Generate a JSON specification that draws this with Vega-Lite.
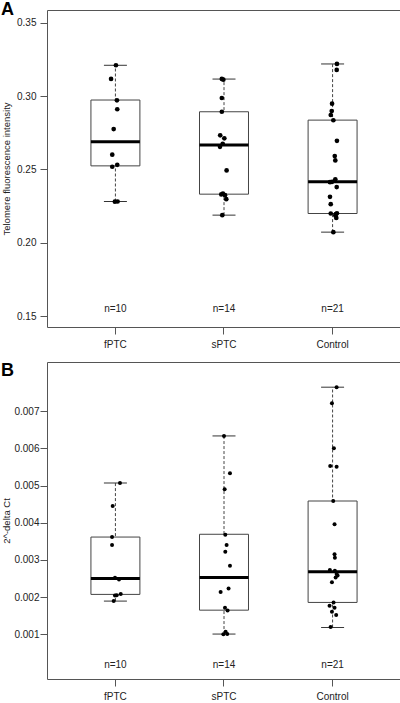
{
  "$schema": "https://vega.github.io/schema/vega-lite/v6.json",
  "padding": 0,
  "background": "white",
  "spacing": 11,
  "config": {
    "font": "Liberation Sans",
    "view": {"stroke": "#555", "strokeWidth": 1},
    "axis": {"domain": false, "grid": false, "tickColor": "#555", "tickSize": 7, "labelFont": "Liberation Sans", "labelFontSize": 10, "labelColor": "#222", "titleFont": "Liberation Sans", "titleFontWeight": "normal", "titleFontSize": 9.5, "titleColor": "#222"},
    "axisX": {"labelPadding": 5, "labelAngle": 0, "title": null},
    "title": {"anchor": "start", "frame": "bounds", "fontSize": 18, "font": "Liberation Sans", "fontWeight": "bold", "color": "#000"}
  },
  "datasets": {
    "telomere": [
      {"group": "fPTC", "value": 0.3210, "jitter": 0.005},
      {"group": "fPTC", "value": 0.3117, "jitter": -0.04},
      {"group": "fPTC", "value": 0.2971, "jitter": 0.014},
      {"group": "fPTC", "value": 0.2910, "jitter": 0.017},
      {"group": "fPTC", "value": 0.2775, "jitter": -0.016},
      {"group": "fPTC", "value": 0.2600, "jitter": -0.029},
      {"group": "fPTC", "value": 0.2518, "jitter": -0.029},
      {"group": "fPTC", "value": 0.2531, "jitter": 0.017},
      {"group": "fPTC", "value": 0.2281, "jitter": 0.02},
      {"group": "fPTC", "value": 0.2280, "jitter": -0.005},
      {"group": "sPTC", "value": 0.3117, "jitter": -0.02},
      {"group": "sPTC", "value": 0.3112, "jitter": -0.006},
      {"group": "sPTC", "value": 0.2987, "jitter": -0.02},
      {"group": "sPTC", "value": 0.2893, "jitter": -0.02},
      {"group": "sPTC", "value": 0.2732, "jitter": -0.035},
      {"group": "sPTC", "value": 0.2712, "jitter": 0.003},
      {"group": "sPTC", "value": 0.2675, "jitter": -0.012},
      {"group": "sPTC", "value": 0.2654, "jitter": -0.037},
      {"group": "sPTC", "value": 0.2493, "jitter": 0.024},
      {"group": "sPTC", "value": 0.2329, "jitter": -0.025},
      {"group": "sPTC", "value": 0.2324, "jitter": 0.009},
      {"group": "sPTC", "value": 0.2297, "jitter": 0.021},
      {"group": "sPTC", "value": 0.2335, "jitter": -0.01},
      {"group": "sPTC", "value": 0.2188, "jitter": -0.016},
      {"group": "Control", "value": 0.3219, "jitter": 0.04},
      {"group": "Control", "value": 0.3178, "jitter": 0.038},
      {"group": "Control", "value": 0.2948, "jitter": -0.005},
      {"group": "Control", "value": 0.2898, "jitter": -0.008},
      {"group": "Control", "value": 0.2871, "jitter": -0.017},
      {"group": "Control", "value": 0.2835, "jitter": 0.007},
      {"group": "Control", "value": 0.2695, "jitter": 0.04},
      {"group": "Control", "value": 0.2591, "jitter": 0.02},
      {"group": "Control", "value": 0.2561, "jitter": 0.025},
      {"group": "Control", "value": 0.2432, "jitter": 0.025},
      {"group": "Control", "value": 0.2413, "jitter": -0.024},
      {"group": "Control", "value": 0.2415, "jitter": -0.005},
      {"group": "Control", "value": 0.2379, "jitter": 0.038},
      {"group": "Control", "value": 0.2313, "jitter": -0.024},
      {"group": "Control", "value": 0.2263, "jitter": -0.017},
      {"group": "Control", "value": 0.2199, "jitter": -0.017},
      {"group": "Control", "value": 0.2195, "jitter": 0.03},
      {"group": "Control", "value": 0.2200, "jitter": 0.04},
      {"group": "Control", "value": 0.2186, "jitter": 0.025},
      {"group": "Control", "value": 0.2169, "jitter": 0.034},
      {"group": "Control", "value": 0.2072, "jitter": 0.007}
    ],
    "telomereBox": [
      {"group": "fPTC", "lower": 0.2281, "q1": 0.2524, "median": 0.2689, "q3": 0.2973, "upper": 0.3210, "n": "n=10"},
      {"group": "sPTC", "lower": 0.2188, "q1": 0.2331, "median": 0.2666, "q3": 0.2893, "upper": 0.3116, "n": "n=14"},
      {"group": "Control", "lower": 0.2072, "q1": 0.2199, "median": 0.2415, "q3": 0.2836, "upper": 0.3219, "n": "n=21"}
    ],
    "dct": [
      {"group": "fPTC", "value": 0.005068, "jitter": 0.042},
      {"group": "fPTC", "value": 0.00445, "jitter": -0.025},
      {"group": "fPTC", "value": 0.003615, "jitter": -0.031},
      {"group": "fPTC", "value": 0.0034, "jitter": -0.031},
      {"group": "fPTC", "value": 0.00252, "jitter": -0.004},
      {"group": "fPTC", "value": 0.002477, "jitter": 0.033},
      {"group": "fPTC", "value": 0.002082, "jitter": 0.049},
      {"group": "fPTC", "value": 0.002047, "jitter": -0.004},
      {"group": "fPTC", "value": 0.00205, "jitter": 0.012},
      {"group": "fPTC", "value": 0.001894, "jitter": -0.016},
      {"group": "sPTC", "value": 0.006333, "jitter": 0.0},
      {"group": "sPTC", "value": 0.005329, "jitter": 0.055},
      {"group": "sPTC", "value": 0.004899, "jitter": 0.006},
      {"group": "sPTC", "value": 0.003677, "jitter": 0.012},
      {"group": "sPTC", "value": 0.0034, "jitter": 0.024},
      {"group": "sPTC", "value": 0.00322, "jitter": 0.012},
      {"group": "sPTC", "value": 0.002843, "jitter": 0.055},
      {"group": "sPTC", "value": 0.002235, "jitter": 0.042},
      {"group": "sPTC", "value": 0.002136, "jitter": -0.031},
      {"group": "sPTC", "value": 0.001713, "jitter": 0.009},
      {"group": "sPTC", "value": 0.001641, "jitter": 0.033},
      {"group": "sPTC", "value": 0.00107, "jitter": 0.015},
      {"group": "sPTC", "value": 0.00101, "jitter": 0.03},
      {"group": "sPTC", "value": 0.00100, "jitter": -0.006},
      {"group": "Control", "value": 0.007643, "jitter": 0.037},
      {"group": "Control", "value": 0.007212, "jitter": -0.006},
      {"group": "Control", "value": 0.006001, "jitter": 0.012},
      {"group": "Control", "value": 0.005525, "jitter": -0.022},
      {"group": "Control", "value": 0.005507, "jitter": 0.037},
      {"group": "Control", "value": 0.004584, "jitter": 0.006},
      {"group": "Control", "value": 0.003956, "jitter": 0.018},
      {"group": "Control", "value": 0.00315, "jitter": 0.018},
      {"group": "Control", "value": 0.003058, "jitter": 0.021},
      {"group": "Control", "value": 0.002727, "jitter": -0.025},
      {"group": "Control", "value": 0.002709, "jitter": 0.021},
      {"group": "Control", "value": 0.00262, "jitter": 0.037},
      {"group": "Control", "value": 0.00258, "jitter": 0.046},
      {"group": "Control", "value": 0.002531, "jitter": 0.028},
      {"group": "Control", "value": 0.002397, "jitter": -0.006},
      {"group": "Control", "value": 0.001858, "jitter": 0.009},
      {"group": "Control", "value": 0.001767, "jitter": -0.028},
      {"group": "Control", "value": 0.001713, "jitter": 0.018},
      {"group": "Control", "value": 0.001606, "jitter": -0.006},
      {"group": "Control", "value": 0.001517, "jitter": 0.033},
      {"group": "Control", "value": 0.0012, "jitter": -0.018}
    ],
    "dctBox": [
      {"group": "fPTC", "lower": 0.001894, "q1": 0.002074, "median": 0.002504, "q3": 0.003615, "upper": 0.005068, "n": "n=10"},
      {"group": "sPTC", "lower": 0.001008, "q1": 0.00165, "median": 0.00253, "q3": 0.00369, "upper": 0.006333, "n": "n=14"},
      {"group": "Control", "lower": 0.001185, "q1": 0.001858, "median": 0.00268, "q3": 0.004584, "upper": 0.007643, "n": "n=21"}
    ]
  },
  "vconcat": [
    {
      "width": 354,
      "height": 317,
      "title": {"text": "A", "offset": -9},
      "resolve": {"scale": {"xOffset": "independent"}},
      "layer": [
        {
          "data": {"name": "telomereBox"},
          "mark": {"type": "rule", "color": "#444", "strokeDash": [3, 2], "strokeWidth": 1},
          "encoding": {
            "x": {"field": "group", "type": "nominal", "scale": {"domain": ["fPTC", "sPTC", "Control"], "paddingInner": 0.549, "paddingOuter": 0.4045}, "axis": {"title": null}},
            "y": {"field": "lower", "type": "quantitative", "scale": {"domain": [0.1425, 0.3587], "nice": false, "zero": false},
                  "axis": {"title": "Telomere fluorescence intensity", "values": [0.15, 0.2, 0.25, 0.3, 0.35], "format": ".2f", "labelPadding": 4, "minExtent": 30, "maxExtent": 30, "titlePadding": 6}},
            "y2": {"field": "upper"}
          }
        },
        {
          "data": {"name": "telomereBox"},
          "mark": {"type": "bar", "fill": "white", "stroke": "#444", "strokeWidth": 1},
          "encoding": {
            "x": {"field": "group", "type": "nominal"},
            "y": {"field": "q1", "type": "quantitative",
                  "axis": {"title": "Telomere fluorescence intensity", "values": [0.15, 0.2, 0.25, 0.3, 0.35], "format": ".2f", "labelPadding": 4, "minExtent": 30, "maxExtent": 30, "titlePadding": 6}},
            "y2": {"field": "q3"}
          }
        },
        {
          "data": {"name": "telomereBox"},
          "mark": {"type": "tick", "size": 49, "thickness": 3, "color": "#000", "opacity": 1},
          "encoding": {
            "x": {"field": "group", "type": "nominal"},
            "y": {"field": "median", "type": "quantitative",
                  "axis": {"title": "Telomere fluorescence intensity", "values": [0.15, 0.2, 0.25, 0.3, 0.35], "format": ".2f", "labelPadding": 4, "minExtent": 30, "maxExtent": 30, "titlePadding": 6}}
          }
        },
        {
          "data": {"name": "telomereBox"},
          "mark": {"type": "tick", "size": 23, "thickness": 1, "color": "#333", "opacity": 1},
          "encoding": {
            "x": {"field": "group", "type": "nominal"},
            "y": {"field": "lower", "type": "quantitative",
                  "axis": {"title": "Telomere fluorescence intensity", "values": [0.15, 0.2, 0.25, 0.3, 0.35], "format": ".2f", "labelPadding": 4, "minExtent": 30, "maxExtent": 30, "titlePadding": 6}}
          }
        },
        {
          "data": {"name": "telomereBox"},
          "mark": {"type": "tick", "size": 23, "thickness": 1, "color": "#333", "opacity": 1},
          "encoding": {
            "x": {"field": "group", "type": "nominal"},
            "y": {"field": "upper", "type": "quantitative",
                  "axis": {"title": "Telomere fluorescence intensity", "values": [0.15, 0.2, 0.25, 0.3, 0.35], "format": ".2f", "labelPadding": 4, "minExtent": 30, "maxExtent": 30, "titlePadding": 6}}
          }
        },
        {
          "data": {"name": "telomere"},
          "mark": {"type": "circle", "size": 22, "color": "#000", "opacity": 1},
          "encoding": {
            "x": {"field": "group", "type": "nominal"},
            "xOffset": {"field": "jitter", "type": "quantitative", "scale": {"domain": [-0.2256, 0.2256]}},
            "y": {"field": "value", "type": "quantitative",
                  "axis": {"title": "Telomere fluorescence intensity", "values": [0.15, 0.2, 0.25, 0.3, 0.35], "format": ".2f", "labelPadding": 4, "minExtent": 30, "maxExtent": 30, "titlePadding": 6}}
          }
        },
        {
          "data": {"name": "telomereBox"},
          "mark": {"type": "text", "fontSize": 10, "color": "#222", "font": "Liberation Sans"},
          "encoding": {
            "x": {"field": "group", "type": "nominal"},
            "y": {"datum": 0.155, "type": "quantitative",
                  "axis": {"title": "Telomere fluorescence intensity", "values": [0.15, 0.2, 0.25, 0.3, 0.35], "format": ".2f", "labelPadding": 4, "minExtent": 30, "maxExtent": 30, "titlePadding": 6}},
            "text": {"field": "n"}
          }
        }
      ]
    },
    {
      "width": 354,
      "height": 317,
      "title": {"text": "B", "offset": -18},
      "resolve": {"scale": {"xOffset": "independent"}},
      "layer": [
        {
          "data": {"name": "dctBox"},
          "mark": {"type": "rule", "color": "#444", "strokeDash": [3, 2], "strokeWidth": 1},
          "encoding": {
            "x": {"field": "group", "type": "nominal", "scale": {"domain": ["fPTC", "sPTC", "Control"], "paddingInner": 0.549, "paddingOuter": 0.4045}, "axis": {"title": null}},
            "y": {"field": "lower", "type": "quantitative", "scale": {"domain": [-0.0002, 0.00832], "nice": false, "zero": false},
                  "axis": {"title": "2^-delta Ct", "values": [0.001, 0.002, 0.003, 0.004, 0.005, 0.006, 0.007], "format": ".3f", "labelPadding": 1, "minExtent": 33, "maxExtent": 33, "titlePadding": 3}},
            "y2": {"field": "upper"}
          }
        },
        {
          "data": {"name": "dctBox"},
          "mark": {"type": "bar", "fill": "white", "stroke": "#444", "strokeWidth": 1},
          "encoding": {
            "x": {"field": "group", "type": "nominal"},
            "y": {"field": "q1", "type": "quantitative",
                  "axis": {"title": "2^-delta Ct", "values": [0.001, 0.002, 0.003, 0.004, 0.005, 0.006, 0.007], "format": ".3f", "labelPadding": 1, "minExtent": 33, "maxExtent": 33, "titlePadding": 3}},
            "y2": {"field": "q3"}
          }
        },
        {
          "data": {"name": "dctBox"},
          "mark": {"type": "tick", "size": 49, "thickness": 3, "color": "#000", "opacity": 1},
          "encoding": {
            "x": {"field": "group", "type": "nominal"},
            "y": {"field": "median", "type": "quantitative",
                  "axis": {"title": "2^-delta Ct", "values": [0.001, 0.002, 0.003, 0.004, 0.005, 0.006, 0.007], "format": ".3f", "labelPadding": 1, "minExtent": 33, "maxExtent": 33, "titlePadding": 3}}
          }
        },
        {
          "data": {"name": "dctBox"},
          "mark": {"type": "tick", "size": 23, "thickness": 1, "color": "#333", "opacity": 1},
          "encoding": {
            "x": {"field": "group", "type": "nominal"},
            "y": {"field": "lower", "type": "quantitative",
                  "axis": {"title": "2^-delta Ct", "values": [0.001, 0.002, 0.003, 0.004, 0.005, 0.006, 0.007], "format": ".3f", "labelPadding": 1, "minExtent": 33, "maxExtent": 33, "titlePadding": 3}}
          }
        },
        {
          "data": {"name": "dctBox"},
          "mark": {"type": "tick", "size": 23, "thickness": 1, "color": "#333", "opacity": 1},
          "encoding": {
            "x": {"field": "group", "type": "nominal"},
            "y": {"field": "upper", "type": "quantitative",
                  "axis": {"title": "2^-delta Ct", "values": [0.001, 0.002, 0.003, 0.004, 0.005, 0.006, 0.007], "format": ".3f", "labelPadding": 1, "minExtent": 33, "maxExtent": 33, "titlePadding": 3}}
          }
        },
        {
          "data": {"name": "dct"},
          "mark": {"type": "circle", "size": 16, "color": "#000", "opacity": 1},
          "encoding": {
            "x": {"field": "group", "type": "nominal"},
            "xOffset": {"field": "jitter", "type": "quantitative", "scale": {"domain": [-0.2256, 0.2256]}},
            "y": {"field": "value", "type": "quantitative",
                  "axis": {"title": "2^-delta Ct", "values": [0.001, 0.002, 0.003, 0.004, 0.005, 0.006, 0.007], "format": ".3f", "labelPadding": 1, "minExtent": 33, "maxExtent": 33, "titlePadding": 3}}
          }
        },
        {
          "data": {"name": "dctBox"},
          "mark": {"type": "text", "fontSize": 10, "color": "#222", "font": "Liberation Sans"},
          "encoding": {
            "x": {"field": "group", "type": "nominal"},
            "y": {"datum": 0.000175, "type": "quantitative",
                  "axis": {"title": "2^-delta Ct", "values": [0.001, 0.002, 0.003, 0.004, 0.005, 0.006, 0.007], "format": ".3f", "labelPadding": 1, "minExtent": 33, "maxExtent": 33, "titlePadding": 3}},
            "text": {"field": "n"}
          }
        }
      ]
    }
  ]
}
